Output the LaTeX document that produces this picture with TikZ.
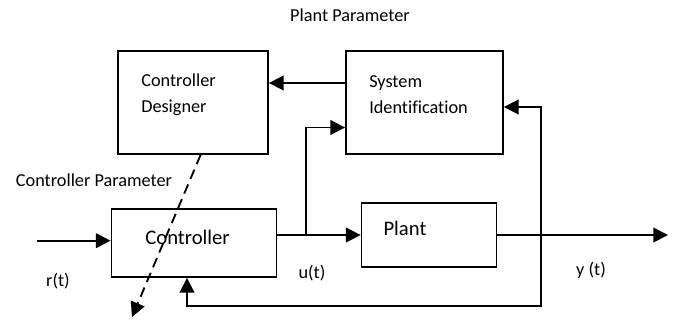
\documentclass[tikz,border=0pt]{standalone}
\usepackage{fontspec}
\setmainfont{Carlito}[Ligatures=NoCommon]
\usetikzlibrary{arrows.meta, positioning, calc}
\tikzset{
  blk/.style={rectangle, draw=black, line width=1.4pt, inner sep=0pt},
  txt/.style={inner sep=0pt, align=left, font=\fontsize{13.7}{19.2}\selectfont},
  bigtxt/.style={inner sep=0pt, font=\fontsize{15.5}{18}\selectfont},
  arrow/.style={-{Triangle[length=11pt, width=11pt]}, line width=1.4pt},
}

\begin{document}
\begin{tikzpicture}[x=0.75pt, y=-0.75pt]
\useasboundingbox (0,0) rectangle (680,320);
% blocks
\node[blk, minimum width=112.5pt, minimum height=77.25pt] (cd) at (193,102.5) {};
\node[blk, minimum width=117.75pt, minimum height=77.25pt] (sid) at (424.5,102.5) {};
\node[blk, minimum width=123.75pt, minimum height=51pt] (ctrl) at (194,243) {};
\node[blk, minimum width=101.25pt, minimum height=47.5pt] (plant) at (429,235) {};
% block texts
\node[txt, anchor=west] (cdtxt) at (141,94.5) {Controller\\Designer};
\node[txt, anchor=west] (sidtxt) at (369,94.5) {System\\Identification};
\node[bigtxt] (ctrltxt) at (187.5,237) {Controller};
\node[bigtxt] (planttxt) at (405,228) {Plant};
% signal labels
\node[txt] (pp) at (350,15) {Plant Parameter};
\node[txt] (cp) at (94,180) {Controller Parameter};
\node[txt] (r) at (58,281) {r(t)};
\node[txt] (u) at (312,273) {u(t)};
\node[txt] (y) at (591,270) {y (t)};
% free ends and branch points
\coordinate (rin) at (37,240.7);
\coordinate (yout) at (668,235);
\coordinate (br) at (306,235);
\coordinate (fb) at (541,235);
\coordinate (fbl) at (541,306);
\coordinate (cpend) at (132,317);
% connectors
\draw[arrow] (rin) -- (rin -| ctrl.west);
\draw[arrow] (ctrl.east |- plant.west) -- (plant.west);
\draw[arrow] (br) |- ($(sid.west)+(0,25)$);
\draw[arrow] (plant.east) -- (yout);
\draw[arrow] ($(sid.west)+(0,-19.5)$) -- ($(cd.east)+(0,-19.5)$);
\draw[arrow] (fb) |- ($(sid.east)+(0,4.5)$);
\draw[arrow] (fb) -- (fbl) -| ([xshift=-5.25pt]ctrl.south);
\draw[arrow, dash pattern=on 7.5pt off 4.5pt] ($(cd.south west)!0.55!(cd.south east)$) -- (cpend);
\end{tikzpicture}
\end{document}
